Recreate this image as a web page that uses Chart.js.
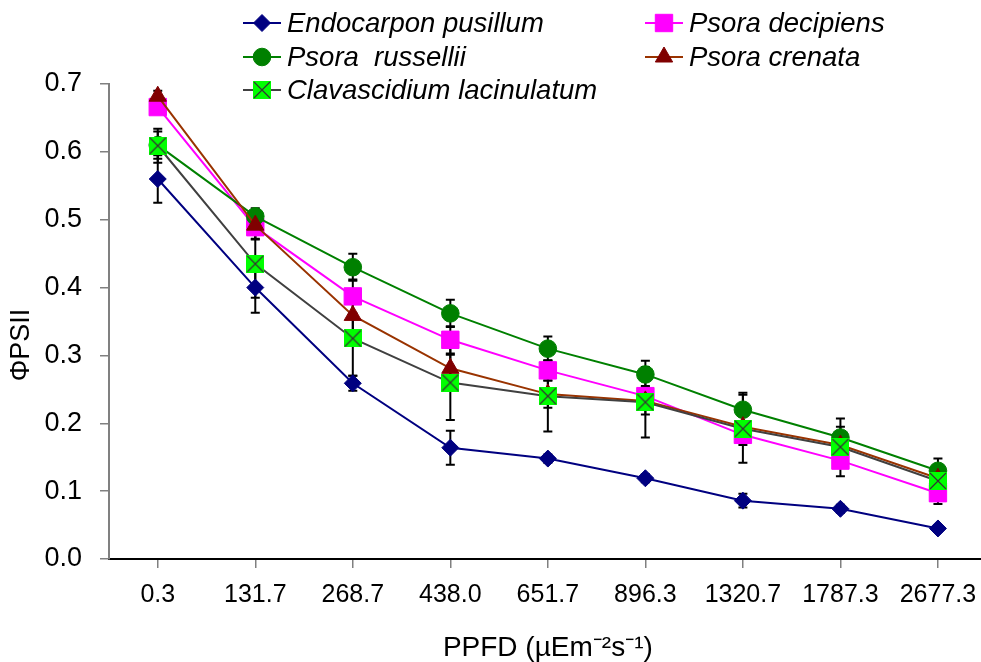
<!DOCTYPE html>
<html><head><meta charset="utf-8">
<script src="https://cdn.jsdelivr.net/npm/chart.js@4/dist/chart.umd.min.js"></script>
<style>html,body{margin:0;padding:0;overflow:hidden;background:#fff;width:981px;height:662px}canvas{display:block}</style>
</head><body><canvas id="c" width="1000" height="662"></canvas>
<script>
// ---- data ----
const categories = ['0.3','131.7','268.7','438.0','651.7','896.3','1320.7','1787.3','2677.3'];
const yTickLabels = ['0.0','0.1','0.2','0.3','0.4','0.5','0.6','0.7'];
const seriesNames = ['Endocarpon pusillum','Psora decipiens','Psora  russellii','Psora crenata','Clavascidium lacinulatum'];
const endocarpon    = [0.560,0.400,0.259,0.164,0.148,0.119,0.086,0.074,0.045];
const endocarponErr = [0.035,0.037,0.011,0.025,0.006,0.006,0.010,0.006,0.005];
const decipiens     = [0.666,0.489,0.387,0.323,0.278,0.240,0.183,0.145,0.097];
const decipiensErr  = [0.010,0.018,0.025,0.020,0.015,0.015,0.015,0.023,0.016];
const russellii     = [0.610,0.505,0.430,0.362,0.310,0.272,0.220,0.179,0.130];
const russelliiErr  = [0.020,0.012,0.020,0.020,0.018,0.020,0.025,0.028,0.018];
const crenata       = [0.682,0.492,0.359,0.281,0.243,0.233,0.195,0.168,0.119];
const crenataErr    = [0.008,0.020,0.030,0.020,0.020,0.020,0.015,0.015,0.015];
const clavascidium  = [0.609,0.435,0.325,0.260,0.240,0.231,0.192,0.165,0.115];
const clavascidiumErr=[0.025,0.050,0.055,0.055,0.052,0.052,0.050,0.030,0.020];

const F = "'Liberation Sans', Arial, sans-serif";

// custom marker for Clavascidium: lime square with an X
function makeClavMarker(){
  const s = 18, cv = document.createElement('canvas');
  cv.width = s; cv.height = s;
  const g = cv.getContext('2d');
  g.fillStyle = '#00FF00'; g.fillRect(0,0,s,s);
  g.strokeStyle = '#333333'; g.lineWidth = 1.2;
  g.beginPath(); g.moveTo(1,1); g.lineTo(s-1,s-1); g.moveTo(s-1,1); g.lineTo(1,s-1); g.stroke();
  return cv;
}
const clavMarker = makeClavMarker();

const datasets = [
  {label:seriesNames[0], data:endocarpon, errors:endocarponErr, borderColor:'#000080', backgroundColor:'#000080',
   pointStyle:'rectRot', pointRadius:8.5, pointBorderWidth:1, order:4},
  {label:seriesNames[1], data:decipiens, errors:decipiensErr, borderColor:'#FF00FF', backgroundColor:'#FF00FF',
   pointStyle:'rect', pointRadius:12.3, pointBorderWidth:1, order:3},
  {label:seriesNames[2], data:russellii, errors:russelliiErr, borderColor:'#008000', backgroundColor:'#008000',
   pointStyle:'circle', pointRadius:8.8, pointBorderWidth:1, order:2},
  {label:seriesNames[3], data:crenata, errors:crenataErr, borderColor:'#993300', backgroundColor:'#800000',
   pointBorderColor:'#800000', pointStyle:'triangle', pointRadius:10, pointBorderWidth:1, order:1},
  {label:seriesNames[4], data:clavascidium, errors:clavascidiumErr, borderColor:'#404040', backgroundColor:'#00FF00',
   pointStyle:clavMarker, pointRadius:9, order:0}
];
datasets.forEach(d=>{ d.borderWidth = 2; d.fill = false; d.tension = 0; });

const errorBars = {
  id:'errorBars',
  beforeDatasetsDraw(chart){
    const ctx = chart.ctx, ys = chart.scales.y;
    ctx.save(); ctx.strokeStyle = '#000'; ctx.lineWidth = 2;
    chart.data.datasets.forEach((ds,di)=>{
      const meta = chart.getDatasetMeta(di);
      ds.errors.forEach((e,i)=>{
        const px = meta.data[i].x;
        const t = ys.getPixelForValue(ds.data[i]+e), b = ys.getPixelForValue(ds.data[i]-e);
        ctx.beginPath();
        ctx.moveTo(px,t); ctx.lineTo(px,b);
        ctx.moveTo(px-4.5,t); ctx.lineTo(px+4.5,t);
        ctx.moveTo(px-4.5,b); ctx.lineTo(px+4.5,b);
        ctx.stroke();
      });
    });
    ctx.restore();
  }
};

function drawMarker(ctx, ds, x, y){
  const st = ds.pointStyle, r = ds.pointRadius;
  ctx.save();
  ctx.fillStyle = ds.backgroundColor;
  ctx.strokeStyle = ds.pointBorderColor || ds.borderColor;
  ctx.lineWidth = 1;
  if (typeof st !== 'string'){ ctx.drawImage(st, x - st.width/2, y - st.height/2); ctx.restore(); return; }
  ctx.beginPath();
  if (st === 'rectRot'){ ctx.moveTo(x-r,y); ctx.lineTo(x,y-r); ctx.lineTo(x+r,y); ctx.lineTo(x,y+r); ctx.closePath(); }
  else if (st === 'rect'){ const s = r*Math.SQRT1_2; ctx.rect(x-s,y-s,2*s,2*s); }
  else if (st === 'circle'){ ctx.arc(x,y,r,0,Math.PI*2); }
  else if (st === 'triangle'){
    for (let k=0;k<3;k++){ const a = k*2*Math.PI/3; const px = x+Math.sin(a)*r, py = y-Math.cos(a)*r; k?ctx.lineTo(px,py):ctx.moveTo(px,py);} ctx.closePath();
  }
  ctx.fill(); ctx.stroke(); ctx.restore();
}

const legendAndTitle = {
  id:'legendAndTitle',
  afterDraw(chart){
    const ctx = chart.ctx;
    const slots = [[243,23],[645,23],[243,57],[645,57],[243,90]];
    const order = [0,1,2,3,4];
    ctx.save();
    order.forEach((di,k)=>{
      const ds = chart.data.datasets[di];
      const [lx,ly] = slots[k];
      ctx.strokeStyle = ds.borderColor; ctx.lineWidth = 2;
      ctx.beginPath(); ctx.moveTo(lx,ly); ctx.lineTo(lx+38,ly); ctx.stroke();
      drawMarker(ctx, ds, lx+19, ly);
      ctx.fillStyle = '#000'; ctx.font = 'italic 27.5px ' + F;
      ctx.textAlign = 'left'; ctx.textBaseline = 'middle';
      ctx.fillText(ds.label, lx+44, ly+1);
    });
    // y-axis title
    ctx.translate(22, 345); ctx.rotate(-Math.PI/2);
    ctx.font = '27px ' + F; ctx.textAlign = 'center'; ctx.textBaseline = 'middle';
    ctx.fillStyle = '#000';
    ctx.fillText('ΦPSII', 0, 0);
    ctx.restore();
  }
};

new Chart(document.getElementById('c'), {
  type:'line',
  data:{labels:categories, datasets:datasets},
  options:{
    responsive:false, animation:false,
    layout:{padding:{top:84,right:9,left:0,bottom:0}},
    plugins:{legend:{display:false}, tooltip:{enabled:false}},
    scales:{
      x:{type:'category', offset:true,
        grid:{display:true, drawOnChartArea:false, drawTicks:true, tickLength:9, offset:false, color:'#808080', lineWidth:1.5},
        border:{display:true, color:'#000', width:2},
        ticks:{font:{family:F,size:25}, color:'#000', padding:12, maxRotation:0, autoSkip:false},
        title:{display:true, text:'PPFD (µEm⁻²s⁻¹)', font:{family:F,size:28}, color:'#000', padding:{top:0,bottom:-3}},
        afterFit(s){ s.height = 103; }
      },
      y:{min:0, max:0.7,
        ticks:{stepSize:0.1, font:{family:F,size:27}, color:'#000', padding:18,
          callback:(v,i)=>yTickLabels[i]},
        grid:{drawOnChartArea:false, tickLength:9, color:'#808080', lineWidth:1.5},
        border:{color:'#808080', width:2},
        afterFit(s){ s.width = 109; }
      }
    }
  },
  plugins:[errorBars, legendAndTitle]
});
</script></body></html>
